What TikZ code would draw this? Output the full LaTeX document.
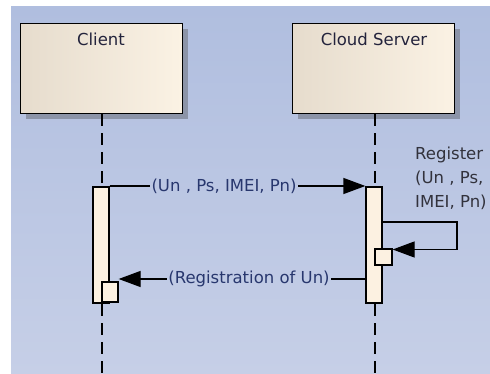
\documentclass[tikz,border=0pt]{standalone}
\usepackage{fontspec}
\setmainfont{DejaVu Sans}
\usetikzlibrary{arrows.meta,shadows}
\definecolor{bgtop}{RGB}{176,190,223}
\definecolor{bgbot}{RGB}{198,207,231}
\definecolor{headl}{RGB}{230,220,205}
\definecolor{headr}{RGB}{251,242,228}
\definecolor{shadowc}{RGB}{140,148,168}
\definecolor{actfill}{RGB}{252,241,225}
\definecolor{headtxt}{RGB}{35,35,60}
\definecolor{msgtxt}{RGB}{40,55,110}
\definecolor{regtxt}{RGB}{50,50,60}
\tikzset{
  headbox/.style={draw=black, line width=1.3pt, left color=headl, right color=headr,
    minimum width=162pt, minimum height=90pt, inner sep=0pt,
    general shadow={fill=shadowc, shadow xshift=5pt, shadow yshift=-5pt}},
  headlabel/.style={font=\fontsize{16.5}{20}\selectfont, text=headtxt, inner sep=0pt},
  actbox/.style={draw=black, line width=1.3pt, fill=actfill, inner sep=0pt},
  lifeline/.style={line width=1.3pt, dash pattern=on 12pt off 7pt},
  msgline/.style={line width=1.3pt},
  msgarrow/.style={line width=1.3pt, -{Triangle[length=22pt,width=16pt]}},
  msglabel/.style={font=\fontsize{16.5}{20}\selectfont, text=msgtxt, inner sep=1.5pt},
}
\begin{document}
\begin{tikzpicture}[x=1pt,y=-1pt]
\useasboundingbox (0,0) rectangle (490,374);
\fill[white] (0,0) rectangle (490,374);
\shade[top color=bgtop, bottom color=bgbot] (11,7) rectangle (490,374);
% heads
\node[headbox, anchor=north west] (ch) at (20,23) {};
\node[headbox, anchor=north west] (sh) at (292,23) {};
\node[headlabel, anchor=base] (cht) at (101,46) {Client};
\node[headlabel, anchor=base] (sht) at (374,46) {Cloud Server};
% lifelines
\coordinate (cend) at (102,374);
\coordinate (send) at (375,374);
\draw[lifeline] (ch.south -| cend) -- (cend);
\draw[lifeline] (sh.south -| send) -- (send);
% activations
\node[actbox, minimum width=16pt, minimum height=116pt] (ca) at (101,245) {};
\node[actbox, minimum width=16pt, minimum height=116pt] (sa) at (374,245) {};
\node[actbox, minimum width=16pt, minimum height=20pt] (cb) at (110,292) {};
\node[actbox, minimum width=17pt, minimum height=16pt] (sb) at (383.5,257) {};
% message 1
\node[msglabel] (l1) at (224,186) {(Un , Ps, IMEI, Pn)};
\draw[msgline] (ca.east |- l1) -- (l1.west);
\draw[msgarrow] (l1.east) -- (sa.west |- l1);
% self message
\coordinate (lp1) at (457,222);
\coordinate (lp2) at (457,249.5);
\draw[msgarrow] (sa.east |- lp1) -- (lp1) -- (lp2) -- (sb.east |- lp2);
\node[font=\fontsize{16.5}{24}\selectfont, text=regtxt, align=left, inner sep=0pt, anchor=north west] (rl) at (415,147) {Register\\(Un , Ps,\\IMEI, Pn)};
% message 2
\node[msglabel] (l2) at (249,279) {(Registration of Un)};
\draw[msgline] (sa.west |- l2) -- (l2.east);
\draw[msgarrow] (l2.west) -- (cb.east |- l2);
\end{tikzpicture}
\end{document}
